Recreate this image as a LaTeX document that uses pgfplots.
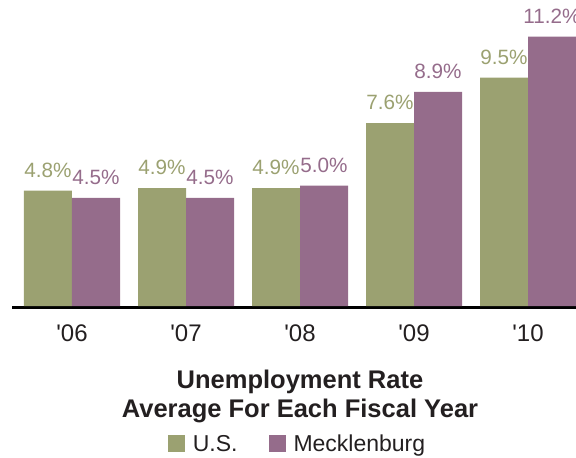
\documentclass[border=0pt]{standalone}
\usepackage{pgfplots}
\pgfplotsset{compat=1.18}
\usepackage{fontspec}
\setmainfont{Liberation Sans}
\definecolor{usg}{RGB}{155,161,113}
\definecolor{mkp}{RGB}{149,108,139}
\definecolor{txt}{RGB}{35,31,32}
\begin{document}
\begin{tikzpicture}
\begin{axis}[
  at={(0,0)}, anchor=south west,
  scale only axis, width=564bp, height=307.5bp,
  xmin=-0.5263, xmax=4.421, ymin=-0.0624, ymax=12.723,
  ybar=0pt, bar width=48bp,
  axis x line*=bottom, axis y line=none,
  x axis line style={line width=3bp, black},
  xtick={0,1,2,3,4},
  xticklabels={\textquotesingle 06,\textquotesingle 07,\textquotesingle 08,\textquotesingle 09,\textquotesingle 10},
  major tick length=0pt,
  xtick style={draw=none},
  xticklabel style={anchor=base, yshift=-34.2bp, font=\fontsize{24bp}{28bp}\selectfont, text=txt},
  /pgf/number format/assume math mode=true,
  nodes near coords={\pgfmathprintnumber[fixed,fixed zerofill,precision=1]{\pgfplotspointmeta}\%},
  every node near coord/.append style={anchor=base, yshift=13.3bp, inner sep=0pt, font=\fontsize{20.7bp}{24bp}\selectfont},
  legend style={draw=none, fill=none, at={(0.5044,-0.4439)}, anchor=center,
    font=\fontsize{23bp}{27bp}\selectfont, text=txt, inner sep=0pt,
    nodes={inner sep=0pt}, cells={anchor=base west},
    /tikz/column sep=8bp,
    /tikz/every even column/.append style={column sep=31bp}},
  legend columns=2,
  clip=false,
]
\addplot[fill=usg, draw=none, every node near coord/.append style={text=usg},
  legend image code/.code={\fill[usg] (0bp,0bp) rectangle (17bp,16.5bp);}]
  coordinates {(0,4.8) (1,4.9) (2,4.9) (3,7.6) (4,9.5)};
\addlegendentry{U.S.}
\addplot[fill=mkp, draw=none, every node near coord/.append style={text=mkp},
  legend image code/.code={\fill[mkp] (0bp,0bp) rectangle (17bp,16.5bp);}]
  coordinates {(0,4.5) (1,4.5) (2,5.0) (3,8.9) (4,11.2)};
\addlegendentry{Mecklenburg}
\end{axis}
\node[anchor=base, font=\bfseries\fontsize{25.5bp}{29bp}\selectfont, text=txt] at (288bp,-80.5bp) {Unemployment Rate};
\node[anchor=base, font=\bfseries\fontsize{25.5bp}{29bp}\selectfont, text=txt] at (288bp,-109.5bp) {Average For Each Fiscal Year};
\pgfresetboundingbox
\path (-12bp,-150.5bp) rectangle (564bp,307.5bp);
\end{tikzpicture}
\end{document}
